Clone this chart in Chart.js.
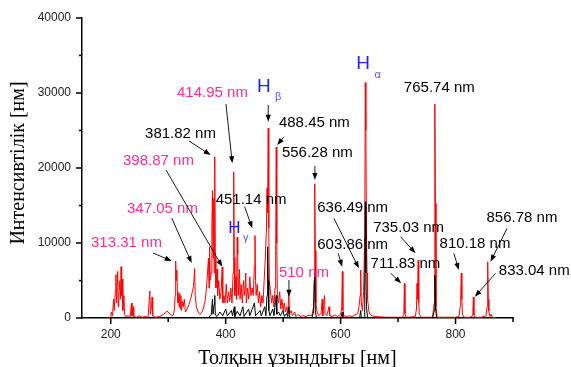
<!DOCTYPE html>
<html>
<head>
<meta charset="utf-8">
<script src="https://cdn.jsdelivr.net/npm/chart.js@4.4.1/dist/chart.umd.min.js"></script>
<style>
  html, body { margin: 0; padding: 0; background: #fff; }
  #wrap { width: 571px; height: 367px; }
</style>
</head>
<body>
<div id="wrap"><canvas id="spectrum"></canvas></div>
<script>
// Emission spectrum
// red trace: wavelength [nm] / intensity
const redWl = [
  200, 201, 203, 205, 206, 208, 209, 210, 211, 212, 213, 214, 216, 217, 218, 219, 220, 221, 223, 224,
  226, 230, 234, 236, 237, 239, 240, 245, 250, 255, 260, 265, 268, 269, 271, 272, 273, 278, 285, 290,
  295, 298, 300, 303, 306, 309, 311, 312, 313, 314, 315, 316, 317, 318, 319, 320, 321, 322, 323, 325,
  326, 328, 330, 333, 336, 339, 342, 344, 346, 347, 349, 352, 355, 358, 361, 364, 366, 368, 370, 371,
  372, 373, 375, 376, 377, 378, 379, 380, 381, 382, 383, 385, 386, 388, 390, 392, 394, 395, 397, 399,
  401, 403, 405, 407, 409, 411, 413, 414, 415, 416, 418, 419, 420, 421, 422, 424, 425, 427, 429, 431,
  433, 435, 436, 438, 440, 442, 444, 446, 448, 450, 451, 452, 453, 455, 457, 459, 461, 463, 465, 467,
  469, 471, 472, 473, 474, 475, 476, 478, 480, 482, 484, 486, 487, 488, 489, 490, 492, 494, 496, 498,
  500, 502, 504, 506, 508, 510, 511, 514, 516, 520, 522, 527, 530, 535, 540, 545, 550, 553, 554, 555,
  556, 557, 559, 562, 566, 568, 569, 572, 573, 576, 580, 581, 585, 590, 595, 600, 602, 603, 604, 606,
  610, 615, 620, 625, 630, 632, 634, 635, 636, 638, 640, 642, 643, 644, 645, 646, 647, 649, 651, 655,
  660, 670, 680, 690, 700, 708, 710, 711, 712, 714, 720, 730, 732, 733, 734, 735, 736, 737, 740, 750,
  760, 763, 764, 765, 766, 768, 780, 800, 806, 808, 809, 810, 811, 812, 815, 825, 830, 831, 832, 834,
  845, 853, 855, 856, 857, 858, 860, 862, 864, 870,
];
const redInt = [
  0, 800, 300, 2500, 1000, 3700, 5800, 2000, 4500, 6200, 1500, 3000, 5000, 2500, 6850, 3000, 5200, 1000, 3000, 500,
  200, 300, 200, 2000, 300, 1500, 200, 100, 300, 100, 200, 100, 3600, 500, 1500, 2800, 300, 100, 200, 400,
  700, 900, 800, 500, 300, 400, 1200, 3000, 7600, 5000, 6400, 3500, 2000, 2800, 1500, 3300, 1200, 3000, 1000, 2200,
  1500, 2500, 800, 1200, 1800, 2500, 3500, 4200, 6600, 3000, 1500, 800, 500, 700, 1200, 2200, 3500, 5500, 8000, 4000,
  9500, 5000, 6000, 12000, 17000, 8000, 16000, 6000, 21500, 8000, 4000, 6500, 3000, 5000, 2500, 3500, 6800, 2000, 3000, 2000,
  4500, 2000, 3500, 2200, 4000, 2000, 6000, 19500, 8000, 3000, 5500, 2500, 10800, 8500, 3000, 6500, 2500, 4500, 2000, 5000,
  3000, 6000, 2000, 4000, 2500, 5500, 3000, 4000, 3000, 7000, 11000, 5000, 3000, 4500, 2000, 3500, 1500, 3000, 2000, 5000,
  8000, 12000, 17300, 14000, 25300, 12000, 5000, 3500, 2000, 3000, 1500, 4000, 9000, 22800, 10000, 3000, 2000, 3500, 1200, 2500,
  1000, 2000, 800, 1500, 600, 3300, 500, 1000, 300, 800, 200, 500, 200, 300, 200, 400, 300, 1500, 5000, 17900,
  9000, 2000, 800, 300, 600, 2500, 300, 3000, 500, 300, 1500, 300, 200, 400, 200, 500, 1500, 6200, 1000, 300,
  200, 300, 200, 400, 600, 1500, 3000, 6400, 2000, 1000, 3500, 11300, 31400, 25000, 11300, 6000, 2500, 1000, 500, 300,
  200, 150, 100, 100, 100, 100, 500, 4600, 600, 100, 100, 200, 1200, 4600, 2500, 7700, 2000, 500, 100, 100,
  100, 2000, 28500, 15300, 1500, 100, 100, 100, 200, 1500, 3000, 6000, 2500, 500, 100, 100, 300, 2800, 400, 100,
  100, 300, 1500, 7500, 2500, 900, 200, 500, 100, 0,
];
// black trace
const blackWl = [
  370, 375, 377, 378, 380, 381, 382, 385, 390, 395, 400, 403, 410, 412, 415, 416, 420, 425, 430, 432,
  440, 442, 450, 452, 460, 462, 468, 470, 472, 473, 474, 475, 477, 482, 484, 488, 489, 492, 495, 500,
  502, 506, 508, 510, 511, 515, 550, 553, 555, 556, 558, 600, 603, 604, 633, 635, 636, 641, 642, 643,
  644, 645, 647, 760, 763, 764, 765, 767,
];
const blackInt = [
  0, 500, 2500, 500, 1800, 3000, 400, 200, 800, 300, 1200, 300, 1000, 300, 1500, 200, 900, 300, 1500, 200,
  1200, 300, 2000, 300, 1000, 300, 1500, 300, 3000, 9500, 5000, 1000, 300, 1200, 300, 3000, 500, 800, 300, 1000,
  200, 600, 200, 1500, 200, 0, 0, 800, 6400, 1000, 0, 0, 800, 0, 0, 1000, 0, 0, 4000, 15500,
  6000, 1500, 0, 0, 1000, 5700, 1500, 0,
];

// axis ticks
const xMajor = [200, 400, 600, 800];
const xMinor = [300, 500, 700, 900];
const yMajor = [0, 10000, 20000, 30000, 40000];
const yMinor = [5000, 15000, 25000, 35000];

// peak labels: text, label anchor (left, middle) and arrow in data units
const PINK = '#ff2b8f';
const notes = [
  { text: '313.31 nm', color: PINK, at: [165.7, 10000], arrow: [273.6, 8670, 306.1, 7600] },
  { text: '347.05 nm', color: PINK, at: [228.3, 14530], arrow: [306.1, 13330, 340.9, 7330] },
  { text: '398.87 nm', color: PINK, at: [221.4, 20970], arrow: [296.2, 19730, 394.1, 6840] },
  { text: '381.82 nm', color: '#000', at: [259.7, 24490], arrow: [336.2, 23600, 373.9, 21730] },
  { text: '414.95 nm', color: PINK, at: [315.3, 30000], arrow: [400.5, 28530, 411.5, 20630] },
  { text: '488.45 nm', color: '#000', at: [492.7, 25960], arrow: [501.4, 24170, 489.7, 23070] },
  { text: '556.28 nm', color: '#000', at: [497.9, 21960], arrow: [555.3, 20270, 555.3, 18400] },
  { text: '451.14 nm', color: '#000', at: [382.6, 15730], arrow: [433.0, 14840, 446.3, 11960] },
  { text: '510 nm', color: PINK, at: [492.7, 5960], arrow: [510.1, 5070, 510.1, 2840] },
  { text: '765.74 nm', color: '#000', at: [710.1, 30630] },
  { text: '636.49 nm', color: '#000', at: [559.3, 14630], arrow: [588.3, 13290, 631.8, 6630] },
  { text: '603.86 nm', color: '#000', at: [559.3, 9730], arrow: [595.8, 8630, 602.8, 6840] },
  { text: '735.03 nm', color: '#000', at: [656.7, 11960], arrow: [704.3, 10840, 730.4, 8630] },
  { text: '711.83 nm', color: '#000', at: [652.2, 7200], arrow: [687.0, 5960, 705.4, 4630] },
  { text: '810.18 nm', color: '#000', at: [772.2, 9870], arrow: [797.0, 8630, 805.7, 6400] },
  { text: '856.78 nm', color: '#000', at: [853.9, 13290], arrow: [889.7, 11960, 860.9, 7510] },
  { text: '833.04 nm', color: '#000', at: [875.3, 6270], arrow: [869.6, 5960, 833.6, 2840] },
];
// hydrogen lines: H + subscript
const hLines = [
  { sub: 'β', at: [454.4, 30800], subAt: [485.7, 29470], size: 19, arrow: [474.1, 28400, 474.1, 26170] },
  { sub: 'γ', at: [404.5, 11960], subAt: [430.1, 10630], size: 17 },
  { sub: 'α', at: [627.1, 33960], subAt: [659.1, 32400], size: 19 },
];

const toPts = (xs, ys) => xs.map((x, i) => ({ x, y: ys[i] }));

function drawArrow(ctx, x1, y1, x2, y2) {
  const a = Math.atan2(y2 - y1, x2 - x1);
  const len = 7;
  const w = 2.6;
  ctx.beginPath();
  ctx.moveTo(x1, y1);
  ctx.lineTo(x2 - Math.cos(a) * len * 0.8, y2 - Math.sin(a) * len * 0.8);
  ctx.stroke();
  ctx.beginPath();
  ctx.moveTo(x2, y2);
  ctx.lineTo(x2 - Math.cos(a) * len - Math.sin(a) * w, y2 - Math.sin(a) * len + Math.cos(a) * w);
  ctx.lineTo(x2 - Math.cos(a) * len + Math.sin(a) * w, y2 - Math.sin(a) * len - Math.cos(a) * w);
  ctx.closePath();
  ctx.fill();
}

const decor = {
  id: 'decor',
  afterDraw(c) {
    const { ctx } = c;
    const xs = c.scales.x;
    const ys = c.scales.y;
    const x0 = xs.left;
    const y0 = ys.bottom;
    ctx.save();
    // tick marks, outward
    ctx.strokeStyle = '#000';
    ctx.lineWidth = 1.5;
    ctx.beginPath();
    xMajor.forEach((v) => { const p = xs.getPixelForValue(v); ctx.moveTo(p, y0); ctx.lineTo(p, y0 + 6); });
    xMinor.forEach((v) => { const p = xs.getPixelForValue(v); ctx.moveTo(p, y0); ctx.lineTo(p, y0 + 4); });
    yMajor.forEach((v) => { const p = ys.getPixelForValue(v); ctx.moveTo(x0, p); ctx.lineTo(x0 - 6, p); });
    yMinor.forEach((v) => { const p = ys.getPixelForValue(v); ctx.moveTo(x0, p); ctx.lineTo(x0 - 3, p); });
    ctx.stroke();

    // axis titles
    ctx.fillStyle = '#000';
    ctx.font = '20px "Liberation Serif", "Times New Roman", serif';
    ctx.textAlign = 'center';
    ctx.textBaseline = 'middle';
    ctx.fillText('Толқын ұзындығы [нм]', (xs.left + xs.right) / 2, 359);
    ctx.save();
    ctx.translate(19, 163);
    ctx.rotate(-Math.PI / 2);
    ctx.fillText('Интенсивтілік [нм]', 0, 0);
    ctx.restore();

    // peak labels and arrows
    ctx.textAlign = 'left';
    ctx.font = '15px "Liberation Sans", Arial, sans-serif';
    ctx.lineWidth = 0.9;
    notes.forEach((n) => {
      ctx.fillStyle = n.color;
      ctx.fillText(n.text, xs.getPixelForValue(n.at[0]), ys.getPixelForValue(n.at[1]));
      if (n.arrow) {
        ctx.strokeStyle = '#000';
        ctx.fillStyle = '#000';
        drawArrow(ctx,
          xs.getPixelForValue(n.arrow[0]), ys.getPixelForValue(n.arrow[1]),
          xs.getPixelForValue(n.arrow[2]), ys.getPixelForValue(n.arrow[3]));
      }
    });
    hLines.forEach((h) => {
      ctx.fillStyle = '#2222ee';
      ctx.font = `${h.size}px "Liberation Sans", Arial, sans-serif`;
      ctx.fillText('H', xs.getPixelForValue(h.at[0]), ys.getPixelForValue(h.at[1]));
      ctx.fillStyle = '#5555ff';
      ctx.font = '11px "Liberation Sans", Arial, sans-serif';
      ctx.fillText(h.sub, xs.getPixelForValue(h.subAt[0]), ys.getPixelForValue(h.subAt[1]));
      if (h.arrow) {
        ctx.strokeStyle = '#000';
        ctx.fillStyle = '#000';
        drawArrow(ctx,
          xs.getPixelForValue(h.arrow[0]), ys.getPixelForValue(h.arrow[1]),
          xs.getPixelForValue(h.arrow[2]), ys.getPixelForValue(h.arrow[3]));
      }
    });
    ctx.restore();
  },
};

new Chart(document.getElementById('spectrum'), {
  type: 'scatter',
  data: {
    datasets: [
      {
        label: 'black',
        data: toPts(blackWl, blackInt),
        showLine: true,
        borderColor: '#000',
        borderWidth: 1,
        pointRadius: 0,
        tension: 0,
      },
      {
        label: 'red',
        data: toPts(redWl, redInt),
        showLine: true,
        borderColor: '#ff0000',
        borderWidth: 1,
        pointRadius: 0,
        tension: 0,
      },
    ],
  },
  options: {
    responsive: true,
    maintainAspectRatio: false,
    animation: false,
    layout: {
      padding: { top: 18, right: 58, bottom: 0, left: 0 },
    },
    scales: {
      x: {
        type: 'linear',
        min: 150,
        max: 900,
        afterFit: (s) => { s.height = 49; },
        afterBuildTicks: (s) => { s.ticks = xMajor.map((v) => ({ value: v })); },
        grid: { drawOnChartArea: false, color: 'rgba(0,0,0,0)', tickLength: 6 },
        border: { color: '#000', width: 1.5 },
        ticks: {
          padding: 3,
          color: '#222',
          font: { family: '"Liberation Sans", Arial, sans-serif', size: 12 },
          callback: (v) => String(v),
        },
      },
      y: {
        min: 0,
        max: 40000,
        afterFit: (s) => { s.width = 82; },
        afterBuildTicks: (s) => { s.ticks = yMajor.map((v) => ({ value: v })); },
        grid: { drawOnChartArea: false, color: 'rgba(0,0,0,0)', tickLength: 6 },
        border: { color: '#000', width: 1.5 },
        ticks: {
          padding: 5,
          color: '#222',
          font: { family: '"Liberation Sans", Arial, sans-serif', size: 12 },
          callback: (v) => String(v),
        },
      },
    },
    plugins: {
      legend: { display: false },
      tooltip: { enabled: false },
    },
  },
  plugins: [decor],
});
</script>
</body>
</html>
